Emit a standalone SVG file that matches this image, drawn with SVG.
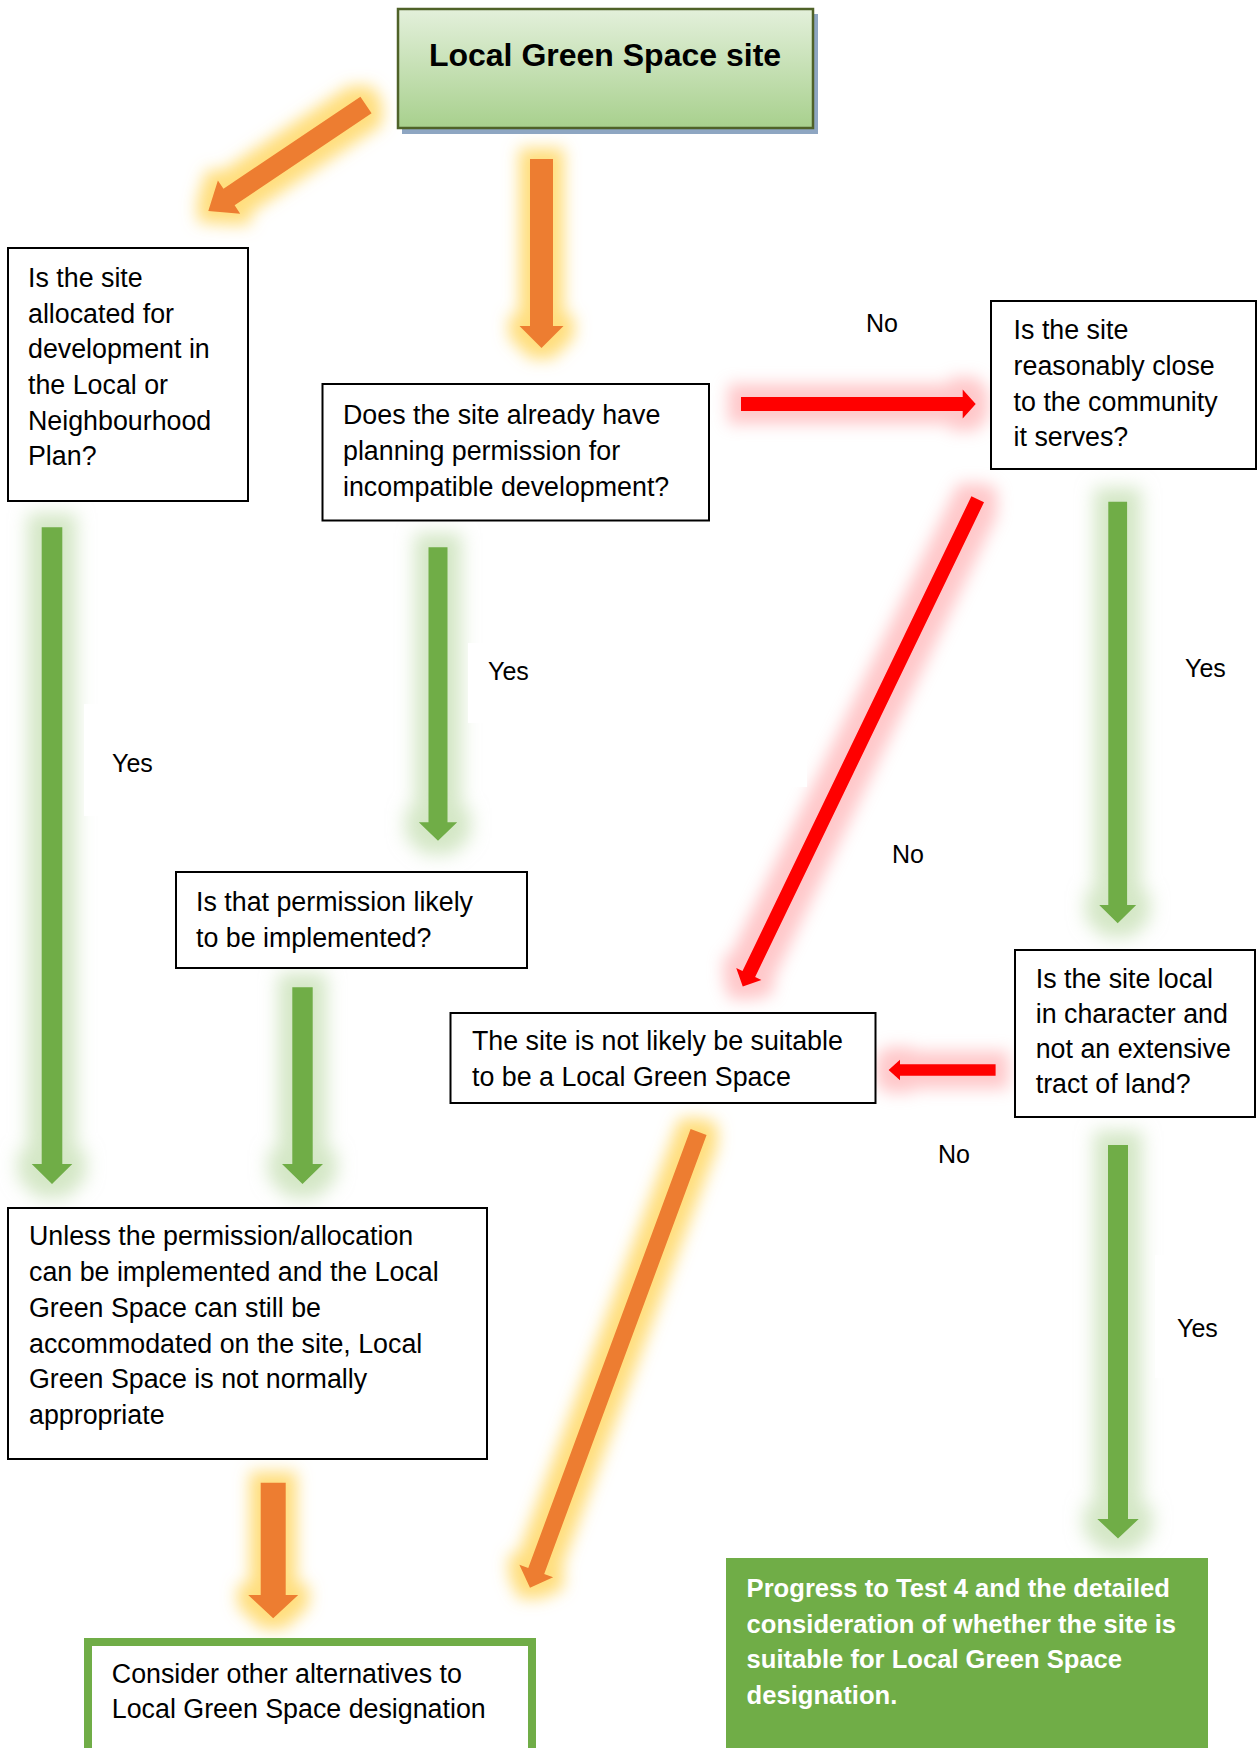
<svg xmlns="http://www.w3.org/2000/svg" width="1258" height="1748" viewBox="0 0 1258 1748">
  <defs>
    <linearGradient id="titleGrad" x1="0" y1="0" x2="0" y2="1">
      <stop offset="0" stop-color="#E3F0DB"/>
      <stop offset="1" stop-color="#A8D08D"/>
    </linearGradient>
    <filter id="glowOrange" filterUnits="userSpaceOnUse" x="0" y="0" width="1258" height="1748" color-interpolation-filters="sRGB">
      <feMorphology in="SourceAlpha" operator="dilate" radius="11" result="d"/>
      <feGaussianBlur in="d" stdDeviation="8" result="b"/>
      <feFlood flood-color="#FFD966" flood-opacity="0.85"/>
      <feComposite in2="b" operator="in" result="g"/>
      <feMerge><feMergeNode in="g"/><feMergeNode in="SourceGraphic"/></feMerge>
    </filter>
    <filter id="glowGreen" filterUnits="userSpaceOnUse" x="0" y="0" width="1258" height="1748" color-interpolation-filters="sRGB">
      <feMorphology in="SourceAlpha" operator="dilate" radius="14" result="d"/>
      <feGaussianBlur in="d" stdDeviation="9" result="b"/>
      <feFlood flood-color="#A9D08E" flood-opacity="0.5"/>
      <feComposite in2="b" operator="in" result="g"/>
      <feMerge><feMergeNode in="g"/><feMergeNode in="SourceGraphic"/></feMerge>
    </filter>
    <filter id="glowRed" filterUnits="userSpaceOnUse" x="0" y="0" width="1258" height="1748" color-interpolation-filters="sRGB">
      <feMorphology in="SourceAlpha" operator="dilate" radius="13" result="d"/>
      <feGaussianBlur in="d" stdDeviation="8" result="b"/>
      <feFlood flood-color="#FF7C80" flood-opacity="0.42"/>
      <feComposite in2="b" operator="in" result="g"/>
      <feMerge><feMergeNode in="g"/><feMergeNode in="SourceGraphic"/></feMerge>
    </filter>
  </defs>
  <style>
    .box { fill: #FFFFFF; stroke: #000000; stroke-width: 2; }
    .txt { font-family: "Liberation Sans", Arial, sans-serif; font-size: 26.8px; fill: #000000; }
    .lbl { font-family: "Liberation Sans", Arial, sans-serif; font-size: 25px; fill: #000000; }
    .orange { fill: #ED7D31; }
    .green { fill: #70AD47; }
    .red { fill: #FF0000; }
    .bold-white { font-family: "Liberation Sans", Arial, sans-serif; font-size: 25.6px; font-weight: bold; fill: #FFFFFF; }
  </style>

  <rect x="0" y="0" width="1258" height="1748" fill="#FFFFFF"/>

  <g id="connectors">
    <g filter="url(#glowOrange)">
      <polygon class="orange" transform="translate(366,105) rotate(146.1)" points="0,-10 165,-10 165,-20 190,0 165,20 165,10 0,10"/>
    </g>
    <g filter="url(#glowOrange)">
      <polygon class="orange" points="530,159 553,159 553,326 563.5,326 541.5,348 519.5,326 530,326"/>
    </g>
    <g filter="url(#glowRed)">
      <polygon class="red" points="741,397 962.7,397 962.7,389.5 975.7,404 962.7,418.5 962.7,411 741,411"/>
    </g>
    <g filter="url(#glowRed)">
      <polygon class="red" transform="translate(977.7,499.3) rotate(115.74)" points="0,-7 527,-7 527,-14 541,0 527,14 527,7 0,7"/>
    </g>
    <g filter="url(#glowGreen)">
      <polygon class="green" points="41.7,527.3 62.3,527.3 62.3,1164 72.3,1164 52,1184 31.7,1164 41.7,1164"/>
    </g>
    <g filter="url(#glowGreen)">
      <polygon class="green" points="428.5,547.3 447.5,547.3 447.5,822.3 457.2,822.3 438,840.7 418.8,822.3 428.5,822.3"/>
    </g>
    <g filter="url(#glowGreen)">
      <polygon class="green" points="292.3,987.3 312.7,987.3 312.7,1164 323,1164 302.5,1184 282,1164 292.3,1164"/>
    </g>
    <g filter="url(#glowGreen)">
      <polygon class="green" points="1108.3,501.7 1127.1,501.7 1127.1,905 1136.2,905 1117.7,923.3 1099.2,905 1108.3,905"/>
    </g>
    <g filter="url(#glowRed)">
      <polygon class="red" points="995.6,1064.2 900,1064.2 900,1059.7 888.6,1070 900,1080.3 900,1075.8 995.6,1075.8"/>
    </g>
    <g filter="url(#glowGreen)">
      <polygon class="green" points="1108,1145 1128,1145 1128,1519 1138.7,1519 1118,1538.6 1097.3,1519 1108,1519"/>
    </g>
    <g filter="url(#glowOrange)">
      <polygon class="orange" transform="translate(698.6,1132) rotate(110.3)" points="0,-8.5 468,-8.5 468,-18 486,0 468,18 468,8.5 0,8.5"/>
    </g>
    <g filter="url(#glowOrange)">
      <polygon class="orange" points="260.7,1482.7 285.7,1482.7 285.7,1595 298.2,1595 273.2,1618.3 248.2,1595 260.7,1595"/>
    </g>
  </g>

  <g id="edge-labels">
    <rect x="84" y="704" width="75" height="112" fill="#FFFFFF"/>
    <rect x="468" y="643" width="70" height="80" fill="#FFFFFF"/>
    <rect x="722" y="690" width="85" height="97" fill="#FFFFFF"/>
    <rect x="1155" y="1255" width="80" height="123" fill="#FFFFFF"/>
    <text class="lbl" x="866" y="332">No</text>
    <text class="lbl" x="892" y="863">No</text>
    <text class="lbl" x="938" y="1163">No</text>
    <text class="lbl" x="112" y="772">Yes</text>
    <text class="lbl" x="488" y="680">Yes</text>
    <text class="lbl" x="1185" y="677">Yes</text>
    <text class="lbl" x="1177" y="1337">Yes</text>
  </g>

  <g id="node-start">
    <rect x="402" y="14" width="416" height="120" fill="#8EA6C2"/>
    <rect x="398" y="9" width="415" height="119" fill="url(#titleGrad)" stroke="#4F6228" stroke-width="2.5"/>
    <text x="605" y="66" text-anchor="middle" font-family="'Liberation Sans', Arial, sans-serif" font-size="32" font-weight="bold" fill="#000000">Local Green Space site</text>
  </g>

  <g id="node-allocated">
    <rect class="box" x="8" y="248" width="240" height="253"/>
    <text class="txt" x="28" y="287">Is the site</text>
    <text class="txt" x="28" y="322.7">allocated for</text>
    <text class="txt" x="28" y="358.4">development in</text>
    <text class="txt" x="28" y="394">the Local or</text>
    <text class="txt" x="28" y="429.7">Neighbourhood</text>
    <text class="txt" x="28" y="465.4">Plan?</text>
  </g>

  <g id="node-permission">
    <rect class="box" x="322.5" y="384" width="386.5" height="136.5"/>
    <text class="txt" x="343" y="424">Does the site already have</text>
    <text class="txt" x="343" y="460">planning permission for</text>
    <text class="txt" x="343" y="496">incompatible development?</text>
  </g>

  <g id="node-close">
    <rect class="box" x="991" y="301" width="265" height="168"/>
    <text class="txt" x="1013.6" y="339">Is the site</text>
    <text class="txt" x="1013.6" y="375">reasonably close</text>
    <text class="txt" x="1013.6" y="410.5">to the community</text>
    <text class="txt" x="1013.6" y="446">it serves?</text>
  </g>

  <g id="node-likely">
    <rect class="box" x="176" y="872" width="351" height="96"/>
    <text class="txt" x="196" y="911">Is that permission likely</text>
    <text class="txt" x="196" y="947">to be implemented?</text>
  </g>

  <g id="node-not-suitable">
    <rect class="box" x="450.5" y="1013" width="425" height="90"/>
    <text class="txt" x="472" y="1050">The site is not likely be suitable</text>
    <text class="txt" x="472" y="1086">to be a Local Green Space</text>
  </g>

  <g id="node-local-character">
    <rect class="box" x="1015" y="950" width="240" height="167"/>
    <text class="txt" x="1035.7" y="988">Is the site local</text>
    <text class="txt" x="1035.7" y="1023">in character and</text>
    <text class="txt" x="1035.7" y="1058">not an extensive</text>
    <text class="txt" x="1035.7" y="1093">tract of land?</text>
  </g>

  <g id="node-unless">
    <rect class="box" x="8" y="1208" width="479" height="251"/>
    <text class="txt" x="29" y="1245">Unless the permission/allocation</text>
    <text class="txt" x="29" y="1281">can be implemented and the Local</text>
    <text class="txt" x="29" y="1316.7">Green Space can still be</text>
    <text class="txt" x="29" y="1352.7">accommodated on the site, Local</text>
    <text class="txt" x="29" y="1388">Green Space is not normally</text>
    <text class="txt" x="29" y="1424">appropriate</text>
  </g>

  <g id="node-alternatives">
    <rect x="88" y="1642" width="444" height="130" fill="#FFFFFF" stroke="#70AD47" stroke-width="8"/>
    <text class="txt" x="111.8" y="1683">Consider other alternatives to</text>
    <text class="txt" x="111.8" y="1718">Local Green Space designation</text>
  </g>

  <g id="node-progress">
    <rect x="726" y="1558" width="482" height="190" fill="#70AD47"/>
    <text class="bold-white" x="746.6" y="1597">Progress to Test 4 and the detailed</text>
    <text class="bold-white" x="746.6" y="1632.5">consideration of whether the site is</text>
    <text class="bold-white" x="746.6" y="1668">suitable for Local Green Space</text>
    <text class="bold-white" x="746.6" y="1703.5">designation.</text>
  </g>
</svg>
